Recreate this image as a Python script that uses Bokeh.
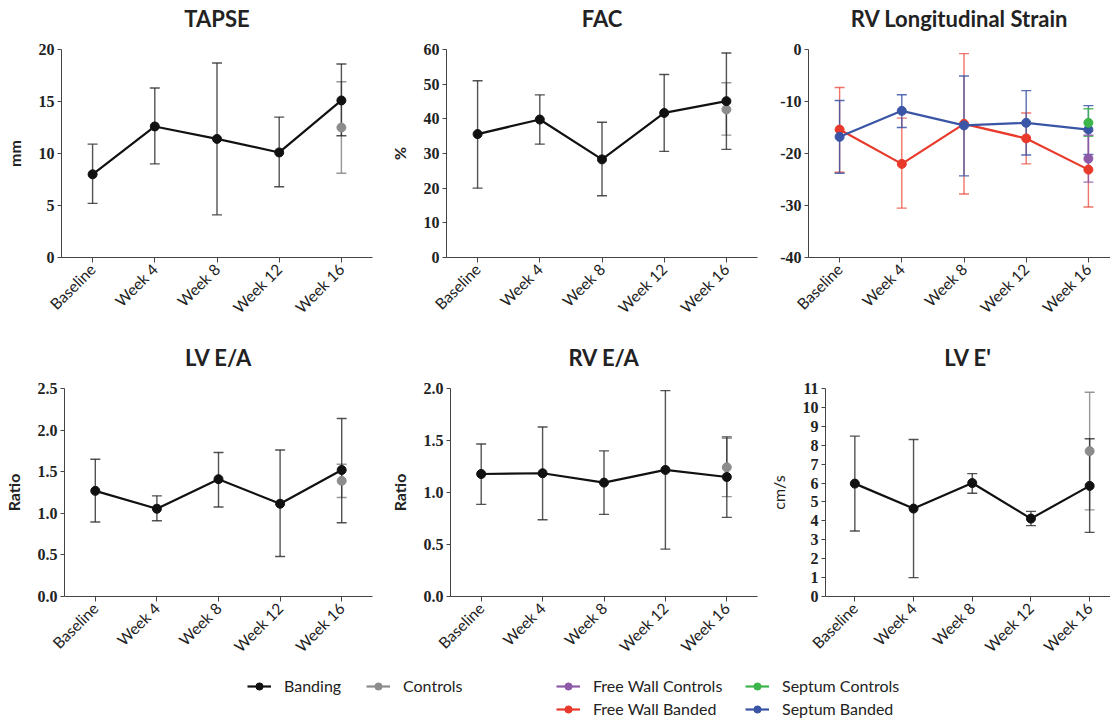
import math
from bokeh.plotting import figure
from bokeh.models import (Range1d, ColumnDataSource, Whisker, TeeHead, FixedTicker,
                          Legend, LegendItem, Title)
from bokeh.layouts import column, row
from bokeh.embed import file_html
from bokeh.resources import INLINE

# ---------------- data ----------------
categories = ["Baseline", "Week 4", "Week 8", "Week 12", "Week 16"]
control_cat = ["Week 16"]

tapse_band = [8.0, 12.6, 11.4, 10.1, 15.1]
tapse_band_hi = [10.9, 16.3, 18.7, 13.5, 18.6]
tapse_band_lo = [5.2, 9.0, 4.1, 6.8, 11.7]
tapse_ctrl = [12.5]
tapse_ctrl_hi = [16.9]
tapse_ctrl_lo = [8.1]

fac_band = [35.6, 39.8, 28.3, 41.7, 45.1]
fac_band_hi = [51.0, 46.9, 39.0, 52.8, 59.0]
fac_band_lo = [20.0, 32.7, 17.8, 30.6, 31.2]
fac_ctrl = [42.7]
fac_ctrl_hi = [50.4]
fac_ctrl_lo = [35.3]

fw_band = [-15.4, -22.0, -14.3, -17.1, -23.1]
fw_band_hi = [-7.3, -13.2, -0.8, -12.2, -15.7]
fw_band_lo = [-23.6, -30.5, -27.8, -22.0, -30.3]
sep_band = [-16.8, -11.8, -14.6, -14.1, -15.4]
sep_band_hi = [-9.8, -8.7, -5.1, -7.9, -10.8]
sep_band_lo = [-23.8, -15.0, -24.3, -20.3, -20.2]
fw_ctrl = [-21.0]
fw_ctrl_hi = [-16.5]
fw_ctrl_lo = [-25.5]
sep_ctrl = [-14.1]
sep_ctrl_hi = [-11.4]
sep_ctrl_lo = [-16.7]

lvea_band = [1.27, 1.055, 1.41, 1.115, 1.52]
lvea_band_hi = [1.65, 1.21, 1.73, 1.76, 2.14]
lvea_band_lo = [0.895, 0.91, 1.075, 0.48, 0.887]
lvea_ctrl = [1.39]
lvea_ctrl_hi = [1.59]
lvea_ctrl_lo = [1.19]

rvea_band = [1.178, 1.185, 1.095, 1.217, 1.149]
rvea_band_hi = [1.467, 1.63, 1.40, 1.98, 1.535]
rvea_band_lo = [0.886, 0.738, 0.79, 0.456, 0.761]
rvea_ctrl = [1.242]
rvea_ctrl_hi = [1.52]
rvea_ctrl_lo = [0.96]

lve_band = [5.97, 4.65, 6.0, 4.12, 5.85]
lve_band_hi = [8.48, 8.3, 6.5, 4.5, 8.34]
lve_band_lo = [3.46, 1.0, 5.46, 3.75, 3.39]
lve_ctrl = [7.69]
lve_ctrl_hi = [10.8]
lve_ctrl_lo = [4.58]

tapse_ticks = [0, 5, 10, 15, 20]
fac_ticks = [0, 10, 20, 30, 40, 50, 60]
strain_ticks = [0, -10, -20, -30, -40]
lvea_ticks = [0.0, 0.5, 1.0, 1.5, 2.0, 2.5]
rvea_ticks = [0.0, 0.5, 1.0, 1.5, 2.0]
lve_ticks = list(range(0, 12))

legend_names = ["Banding", "Controls", "Free Wall Controls", "Free Wall Banded",
                "Septum Controls", "Septum Banded"]

# ---------------- style ----------------
SANS = "Lato"
SERIF = "Liberation Serif"
TEXT = "#222222"
AXIS = "#444444"
BLACK = "#111111"
GREY = "#8c8c8c"
RED = "#e8392b"
BLUE = "#3a55a5"
GREEN = "#3db54a"
PURPLE = "#8e5aa8"
SPACING = 62.2  # px per category

idx = {c: i for i, c in enumerate(categories)}


def panel(title, ylabel, ylim, yticks, fmt, w, h, bl, br, bt, bb, ylabel_bold=True):
    frame_w = w - bl - br
    xend = -0.5 + frame_w / SPACING
    p = figure(width=w, height=h, x_range=Range1d(-0.5, xend), y_range=Range1d(*ylim),
               output_backend="svg", toolbar_location=None,
               min_border_left=bl, min_border_right=br, min_border_top=bt,
               min_border_bottom=bb)
    p.outline_line_color = None
    p.grid.visible = False
    p.background_fill_color = None
    p.border_fill_color = None

    # blank spacer between frame and title (nearest to the frame), then the title
    p.add_layout(Title(text=" ", text_font=SANS, text_font_size="13.5px",
                       text_color="#ffffff", standoff=0), "above")
    p.add_layout(Title(text=title, text_font=SANS, text_font_size="22px",
                       text_font_style="bold", text_color=TEXT, align="center",
                       standoff=0), "above")

    xa = p.xaxis[0]
    xa.ticker = FixedTicker(ticks=list(range(len(categories))))
    xa.major_label_overrides = {i: c for i, c in enumerate(categories)}
    xa.major_label_orientation = math.pi / 4
    xa.major_label_text_font = SANS
    xa.major_label_text_font_size = "15.5px"
    xa.major_label_text_color = TEXT
    xa.major_label_standoff = 4
    xa.axis_line_color = AXIS
    xa.major_tick_line_color = AXIS
    xa.major_tick_in = 0
    xa.major_tick_out = 5
    xa.minor_tick_line_color = None

    ya = p.yaxis[0]
    ya.ticker = FixedTicker(ticks=yticks)
    ya.major_label_overrides = {t: fmt.format(t) for t in yticks}
    ya.major_label_text_font = SERIF
    ya.major_label_text_font_style = "bold"
    ya.major_label_text_font_size = "16px"
    ya.major_label_text_color = TEXT
    ya.major_label_standoff = 3
    ya.axis_line_color = AXIS
    ya.major_tick_line_color = AXIS
    ya.major_tick_in = 0
    ya.major_tick_out = 4
    ya.minor_tick_line_color = None
    ya.axis_label = ylabel
    ya.axis_label_text_font = SANS
    ya.axis_label_text_font_size = "16px"
    ya.axis_label_text_font_style = "bold" if ylabel_bold else "normal"
    ya.axis_label_text_color = TEXT
    ya.axis_label_standoff = 12
    return p


def series(p, cats, mean, hi, lo, color, bar_color, bar_alpha, line=True):
    src = ColumnDataSource(dict(x=[idx[c] for c in cats], y=mean, upper=hi, lower=lo))
    w = Whisker(source=src, base="x", upper="upper", lower="lower",
                line_color=bar_color, line_alpha=bar_alpha, line_width=1.4,
                upper_head=TeeHead(size=10, line_color=bar_color, line_alpha=bar_alpha, line_width=1.4),
                lower_head=TeeHead(size=10, line_color=bar_color, line_alpha=bar_alpha, line_width=1.4))
    p.add_layout(w)
    if line:
        p.line("x", "y", source=src, line_color=color, line_width=2.2)
    p.scatter("x", "y", source=src, size=9, fill_color=color, line_color=color)


# ---------------- layout geometry ----------------
W1, L1, R1 = 386, 61, 14
W2, L2, R2 = 379, 60, 8
W3, L3, R3 = 345, 43, 0
H1, T1, B1 = 330, 49, 73
H2, T2, B2 = 339, 58, 73
HL = 51

p1 = panel("TAPSE", "mm", (0, 20), tapse_ticks, "{:d}", W1, H1, L1, R1, T1, B1)
series(p1, control_cat, tapse_ctrl, tapse_ctrl_hi, tapse_ctrl_lo, GREY, GREY, 0.9, line=False)
series(p1, categories, tapse_band, tapse_band_hi, tapse_band_lo, BLACK, "#222222", 0.78)

p2 = panel("FAC", "%", (0, 60), fac_ticks, "{:d}", W2, H1, L2, R2, T1, B1)
series(p2, control_cat, fac_ctrl, fac_ctrl_hi, fac_ctrl_lo, GREY, GREY, 0.9, line=False)
series(p2, categories, fac_band, fac_band_hi, fac_band_lo, BLACK, "#222222", 0.78)

p3 = panel("RV Longitudinal Strain", "", (-40, 0), strain_ticks, "{:d}", W3, H1, L3, R3, T1, B1)
series(p3, categories, fw_band, fw_band_hi, fw_band_lo, RED, RED, 0.7)
series(p3, categories, sep_band, sep_band_hi, sep_band_lo, BLUE, BLUE, 0.85)
series(p3, control_cat, sep_ctrl, sep_ctrl_hi, sep_ctrl_lo, GREEN, GREEN, 0.85, line=False)
series(p3, control_cat, fw_ctrl, fw_ctrl_hi, fw_ctrl_lo, PURPLE, PURPLE, 0.85, line=False)
p3.yaxis[0].axis_label = None

p4 = panel("LV E/A", "Ratio", (0, 2.5), lvea_ticks, "{:.1f}", W1, H2, L1, R1, T2, B2)
series(p4, control_cat, lvea_ctrl, lvea_ctrl_hi, lvea_ctrl_lo, GREY, GREY, 0.9, line=False)
series(p4, categories, lvea_band, lvea_band_hi, lvea_band_lo, BLACK, "#222222", 0.78)

p5 = panel("RV E/A", "Ratio", (0, 2.0), rvea_ticks, "{:.1f}", W2, H2, L2, R2, T2, B2)
series(p5, control_cat, rvea_ctrl, rvea_ctrl_hi, rvea_ctrl_lo, GREY, GREY, 0.9, line=False)
series(p5, categories, rvea_band, rvea_band_hi, rvea_band_lo, BLACK, "#222222", 0.78)

p6 = panel("LV E'", "cm/s", (0, 11), lve_ticks, "{:d}", W3, H2, L3, R3, T2, B2, ylabel_bold=False)
series(p6, control_cat, lve_ctrl, lve_ctrl_hi, lve_ctrl_lo, GREY, GREY, 0.9, line=False)
series(p6, categories, lve_band, lve_band_hi, lve_band_lo, BLACK, "#222222", 0.78)

# ---------------- legend ----------------
leg = figure(width=W1 + W2 + W3, height=HL, x_range=Range1d(0, 1), y_range=Range1d(0, 1),
             output_backend="svg", toolbar_location=None, min_border=0,
             x_axis_location=None, y_axis_location=None)
leg.outline_line_color = None
leg.grid.visible = False
leg.border_fill_color = None
leg.background_fill_color = None

legend_colors = [BLACK, GREY, PURPLE, RED, GREEN, BLUE]
legend_pos = [(247, 25), (366, 25), (556, 25), (556, 2), (745, 25), (745, 2)]
nan = float("nan")

for name, col, pos in zip(legend_names, legend_colors, legend_pos):
    dummy = ColumnDataSource(dict(x=[nan], y=[nan]))
    rl = leg.line("x", "y", source=dummy, line_color=col, line_width=2.2)
    rs = leg.scatter("x", "y", source=dummy, size=8, fill_color=col, line_color=col)
    L = Legend(items=[LegendItem(label=name, renderers=[rl, rs])], location=pos,
               padding=0, margin=0, border_line_color=None, background_fill_alpha=0,
               glyph_width=24, glyph_height=18, label_height=18, label_standoff=13,
               label_text_font=SANS, label_text_font_size="16px", label_text_color=TEXT)
    leg.add_layout(L)

layout = column(row(p1, p2, p3), row(p4, p5, p6), leg)

open("out.html", "w").write(file_html(layout, INLINE))
